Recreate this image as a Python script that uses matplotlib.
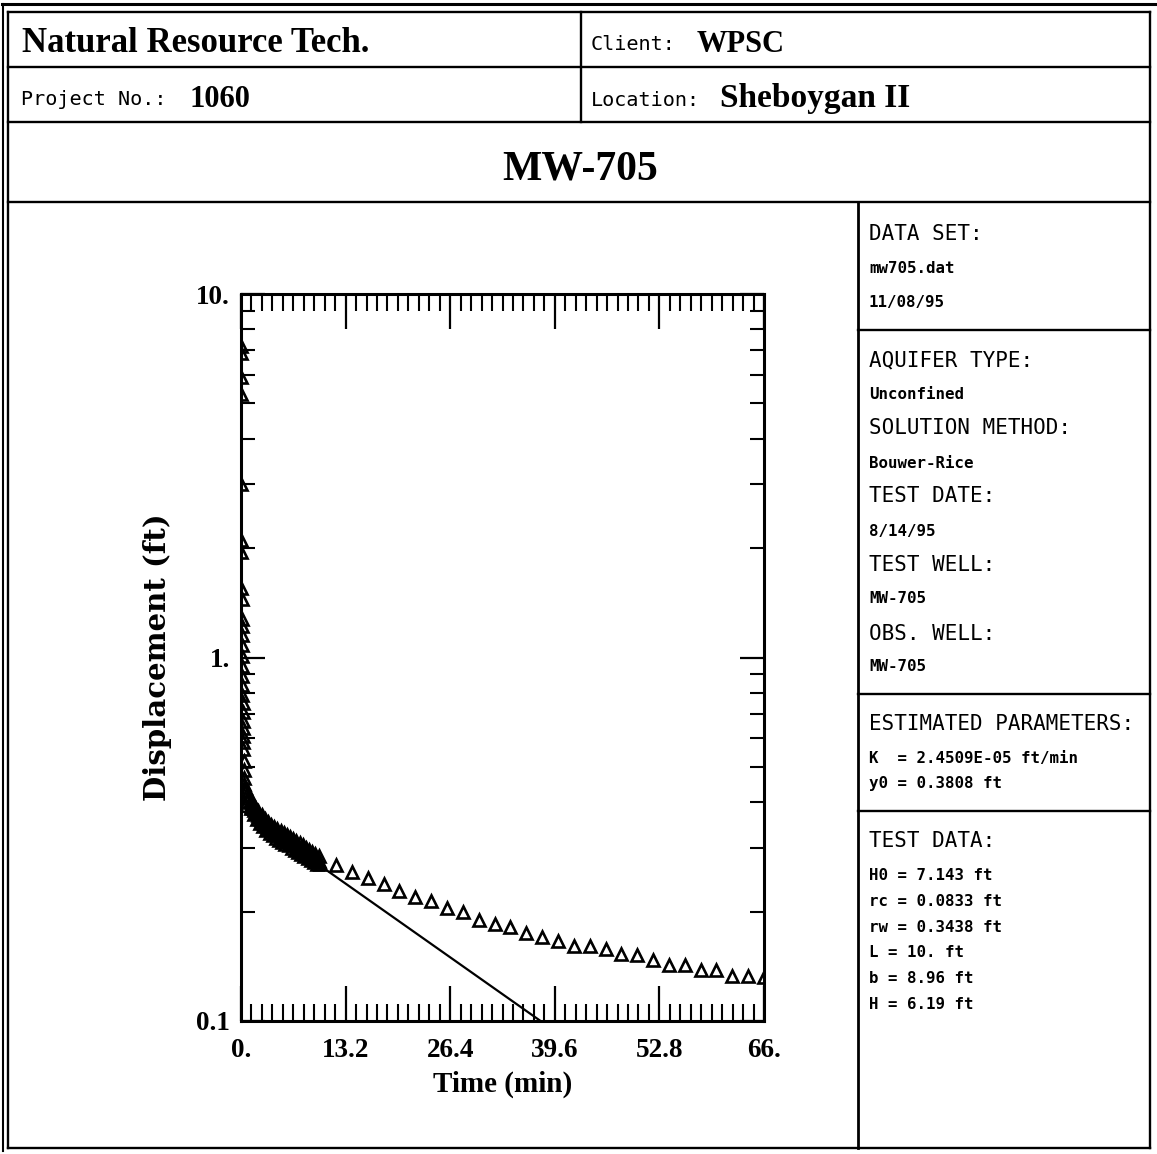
import matplotlib
matplotlib.use("Agg")
import matplotlib.pyplot as plt
from matplotlib.lines import Line2D
from matplotlib.ticker import FixedLocator, MultipleLocator, LogLocator, NullFormatter

# ---------------------------------------------------------------------------
# Slug test record, MW-705 (time in minutes, displacement in feet)
# ---------------------------------------------------------------------------
time_early = [0.0000, 0.0083, 0.0167, 0.0250, 0.0333, 0.0417, 0.0500, 0.0583,
              0.0667, 0.0750, 0.0833, 0.0917, 0.1000, 0.1167, 0.1333, 0.1500,
              0.1667, 0.1833, 0.2000, 0.2167, 0.2333, 0.2500, 0.2667, 0.2833,
              0.3000, 0.3333, 0.3667, 0.4000, 0.4333, 0.4667, 0.5000]
disp_early = [7.20, 6.90, 5.90, 5.30, 3.00, 2.10, 1.95, 1.55,
              1.45, 1.28, 1.22, 1.15, 1.08, 1.01, 0.95, 0.89,
              0.84, 0.79, 0.75, 0.71, 0.67, 0.64, 0.61, 0.585,
              0.56, 0.52, 0.49, 0.465, 0.45, 0.44, 0.43]

time_mid = [0.6, 0.8, 1.0, 1.2, 1.4, 1.6, 1.8, 2.0, 2.2, 2.4, 2.6, 2.8, 3.0,
            3.2, 3.4, 3.6, 3.8, 4.0, 4.2, 4.4, 4.6, 4.8, 5.0, 5.2, 5.4, 5.6,
            5.8, 6.0, 6.2, 6.4, 6.6, 6.8, 7.0, 7.2, 7.4, 7.6, 7.8, 8.0, 8.2,
            8.4, 8.6, 8.8, 9.0, 9.2, 9.4, 9.6, 9.8, 10.0]
disp_mid = [0.432, 0.403, 0.417, 0.386, 0.402, 0.372, 0.389, 0.360, 0.377,
            0.350, 0.368, 0.343, 0.360, 0.336, 0.352, 0.329, 0.346, 0.324,
            0.342, 0.319, 0.337, 0.315, 0.333, 0.311, 0.329, 0.307, 0.324,
            0.304, 0.320, 0.300, 0.316, 0.296, 0.312, 0.292, 0.308, 0.288,
            0.304, 0.284, 0.300, 0.281, 0.296, 0.277, 0.292, 0.274, 0.288,
            0.271, 0.284, 0.270]

time_mid_b = [0.7, 0.9, 1.1, 1.3, 1.5, 1.7, 1.9, 2.1, 2.3, 2.5, 2.7, 2.9,
              3.1, 3.3, 3.5, 3.7, 3.9, 4.1, 4.3, 4.5, 4.7, 4.9, 5.1, 5.3,
              5.5, 5.7, 5.9, 6.1, 6.3, 6.5, 6.7, 6.9, 7.1, 7.3, 7.5, 7.7,
              7.9, 8.1, 8.3, 8.5, 8.7, 8.9, 9.1, 9.3, 9.5, 9.7, 9.9]
disp_mid_b = [0.420, 0.410, 0.401, 0.394, 0.386, 0.380, 0.374, 0.368,
              0.363, 0.359, 0.355, 0.351, 0.347, 0.344, 0.340, 0.337,
              0.335, 0.333, 0.330, 0.328, 0.326, 0.324, 0.322, 0.320,
              0.318, 0.316, 0.314, 0.312, 0.310, 0.308, 0.306, 0.304,
              0.302, 0.300, 0.298, 0.296, 0.294, 0.292, 0.290, 0.288,
              0.286, 0.285, 0.283, 0.281, 0.280, 0.278, 0.276]

time_late = [12, 14, 16, 18, 20, 22, 24, 26, 28, 30, 32, 34, 36, 38,
             40, 42, 44, 46, 48, 50, 52, 54, 56, 58, 60, 62, 64, 66]
disp_late = [0.2686, 0.257, 0.2473, 0.238, 0.228, 0.2194, 0.2138, 0.2046,
             0.1995, 0.1897, 0.185, 0.1815, 0.1747, 0.1703, 0.166, 0.1608,
             0.1608, 0.1578, 0.1529, 0.152, 0.147, 0.1426, 0.1426, 0.138,
             0.138, 0.133, 0.133, 0.132]

# Bouwer-Rice straight-line fit: intercept y0 and log10 decline per minute
fit_y0 = 0.3808
fit_log_slope = 0.01536
fit_times = [0.0, 66.0]

x_ticks = [0.0, 13.2, 26.4, 39.6, 52.8, 66.0]
x_tick_labels = ["0.", "13.2", "26.4", "39.6", "52.8", "66."]
y_ticks = [0.1, 1.0, 10.0]
y_tick_labels = ["0.1", "1.", "10."]

header_left = [("Natural Resource Tech.", None), ("Project No.:", "1060")]
header_right = [("Client:", "WPSC"), ("Location:", "Sheboygan II")]
title = "MW-705"

panel_blocks = [
    [("DATA SET:", "h"), ("mw705.dat", "s"), ("11/08/95", "s")],
    [("AQUIFER TYPE:", "h"), ("Unconfined", "s"), ("SOLUTION METHOD:", "h"),
     ("Bouwer-Rice", "s"), ("TEST DATE:", "h"), ("8/14/95", "s"),
     ("TEST WELL:", "h"), ("MW-705", "s"), ("OBS. WELL:", "h"), ("MW-705", "s")],
    [("ESTIMATED PARAMETERS:", "h"), ("K  = 2.4509E-05 ft/min", "s"),
     ("y0 = 0.3808 ft", "s")],
    [("TEST DATA:", "h"), ("H0 = 7.143 ft", "s"), ("rc = 0.0833 ft", "s"),
     ("rw = 0.3438 ft", "s"), ("L = 10. ft", "s"), ("b = 8.96 ft", "s"),
     ("H = 6.19 ft", "s")],
]

# ---------------------------------------------------------------------------
W, H = 1157, 1154
fig = plt.figure(figsize=(W / 100, H / 100), dpi=100)
fig.patch.set_facecolor("white")

SERIF = "Liberation Serif"
MONO = "DejaVu Sans Mono"


def fx(px):
    return px / W


def fy(py):
    return 1.0 - py / H


def hline(y, x0, x1, lw=1.7):
    fig.add_artist(Line2D([fx(x0), fx(x1)], [fy(y), fy(y)], color="black",
                          lw=lw, solid_capstyle="projecting"))


def vline(x, y0, y1, lw=1.7):
    fig.add_artist(Line2D([fx(x), fx(x)], [fy(y0), fy(y1)], color="black",
                          lw=lw, solid_capstyle="projecting"))


# Sheet frame and header grid
hline(4, 2, 1155, lw=2.2)
vline(3, 4, 1151, lw=1.5)
hline(12, 8, 1150)
vline(8, 12, 1148)
vline(1150, 12, 1148)
hline(1148, 8, 1150)
hline(67, 8, 1150)
hline(122, 8, 1150)
hline(202, 8, 1150)
vline(581, 12, 122)
vline(858, 202, 1148, lw=2.0)
hline(330, 858, 1150)
hline(694, 858, 1150)
hline(811, 858, 1150)

# Header text
fig.text(fx(22), fy(52), header_left[0][0], family=SERIF, weight="bold",
         fontsize=25, ha="left", va="baseline")
fig.text(fx(21), fy(105), header_left[1][0], family=MONO, fontsize=14.5,
         ha="left", va="baseline")
fig.text(fx(190), fy(107), header_left[1][1], family=SERIF, weight="bold",
         fontsize=22, ha="left", va="baseline")
fig.text(fx(591), fy(50), header_right[0][0], family=MONO, fontsize=14.5,
         ha="left", va="baseline")
fig.text(fx(697), fy(52), header_right[0][1], family=SERIF, weight="bold",
         fontsize=22, ha="left", va="baseline")
fig.text(fx(591), fy(106), header_right[1][0], family=MONO, fontsize=14.5,
         ha="left", va="baseline")
fig.text(fx(720), fy(107), header_right[1][1], family=SERIF, weight="bold",
         fontsize=24, ha="left", va="baseline")
fig.text(fx(580), fy(180), title, family=SERIF, weight="bold",
         fontsize=30, ha="center", va="baseline")

# Side panel text
panel_baselines = [
    [240, 273, 307],
    [366, 399, 434, 468, 502, 536, 571, 603, 640, 671],
    [730, 763, 788],
    [847, 880, 906, 932, 957, 983, 1009],
]
for block, bases in zip(panel_blocks, panel_baselines):
    for (txt, kind), yb in zip(block, bases):
        if kind == "h":
            fig.text(fx(869), fy(yb), txt, family=MONO, fontsize=15,
                     ha="left", va="baseline")
        else:
            fig.text(fx(869), fy(yb), txt, family=MONO, weight="bold",
                     fontsize=11.3, ha="left", va="baseline")

# ---------------------------------------------------------------------------
# Plot
ax_l, ax_r, ax_t, ax_b = 241, 764, 294, 1021
ax = fig.add_axes([fx(ax_l), fy(ax_b), (ax_r - ax_l) / W, (ax_b - ax_t) / H])
ax.set_yscale("log")
ax.set_xlim(0, 66)
ax.set_ylim(0.1, 10)

marker_kw = dict(linestyle="none", marker="^", markersize=9,
                 markerfacecolor="none", markeredgecolor="black",
                 markeredgewidth=1.9)
ax.plot(time_early, disp_early, **marker_kw)
ax.plot(time_mid, disp_mid, **marker_kw)
ax.plot(time_mid_b, disp_mid_b, **marker_kw)
ax.plot(time_late, disp_late, **marker_kw)

fit_disp = [fit_y0 * 10 ** (-fit_log_slope * t) for t in fit_times]
ax.plot(fit_times, fit_disp, color="black", lw=1.6)

ax.xaxis.set_major_locator(FixedLocator(x_ticks))
ax.set_xticklabels(x_tick_labels)
ax.xaxis.set_minor_locator(MultipleLocator(1.32))
ax.yaxis.set_major_locator(FixedLocator(y_ticks))
ax.set_yticklabels(y_tick_labels)
ax.yaxis.set_minor_locator(LogLocator(base=10, subs=range(2, 10)))
ax.yaxis.set_minor_formatter(NullFormatter())

ax.tick_params(which="both", direction="in", top=True, right=True,
               color="black")
ax.tick_params(axis="x", which="major", length=25, width=1.6, pad=12)
ax.tick_params(axis="x", which="minor", length=12, width=1.5)
ax.tick_params(axis="y", which="major", length=17, width=1.6, pad=8)
ax.tick_params(axis="y", which="minor", length=10, width=1.5)
for lab in ax.get_xticklabels() + ax.get_yticklabels():
    lab.set_fontfamily(SERIF)
    lab.set_fontweight("bold")
    lab.set_fontsize(19.5)

for sp in ax.spines.values():
    sp.set_linewidth(2.2)

ax.set_xlabel("Time (min)", family=SERIF, weight="bold", fontsize=21,
              labelpad=6)
ax.set_ylabel("Displacement (ft)", family="DejaVu Serif", weight="bold",
              fontsize=21, labelpad=17)

fig.savefig("out.png", dpi=100, facecolor="white")
